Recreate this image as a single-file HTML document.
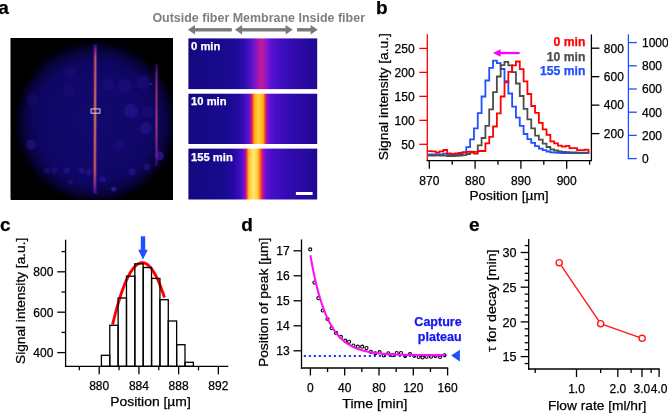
<!DOCTYPE html>
<html><head><meta charset="utf-8"><style>
html,body{margin:0;padding:0;background:#fff;}
svg{display:block;will-change:transform;}
text{font-family:"Liberation Sans",sans-serif;}
</style></head><body>
<svg width="668" height="413" viewBox="0 0 668 413">
<rect width="668" height="413" fill="#fff"/>
<text x="152.4" y="21.7" font-size="12.45" font-weight="bold" fill="#7f7f7f" textLength="212.6" lengthAdjust="spacingAndGlyphs">Outside fiber Membrane Inside fiber</text>
<rect x="193.8" y="28.1" width="38.0" height="3.4" fill="#7a7a7a"/>
<polygon points="187.8,29.8 195.0,25.1 195.0,34.5" fill="#7a7a7a"/>
<rect x="240.9" y="28.1" width="45.900000000000006" height="3.4" fill="#7a7a7a"/>
<polygon points="234.9,29.8 242.1,25.1 242.1,34.5" fill="#7a7a7a"/>
<polygon points="292.8,29.8 285.6,25.1 285.6,34.5" fill="#7a7a7a"/>
<rect x="297" y="28.1" width="14.800000000000011" height="3.4" fill="#7a7a7a"/>
<polygon points="317.8,29.8 310.6,25.1 310.6,34.5" fill="#7a7a7a"/>
<defs>
<radialGradient id="field" gradientUnits="userSpaceOnUse" cx="95.5" cy="122" r="84">
 <stop offset="0" stop-color="#12096e"/>
 <stop offset="0.5" stop-color="#11086a"/>
 <stop offset="0.72" stop-color="#0e0662"/>
 <stop offset="0.82" stop-color="#0a0548"/>
 <stop offset="0.90" stop-color="#050228"/>
 <stop offset="0.95" stop-color="#010008"/>
 <stop offset="1" stop-color="#000"/>
</radialGradient>
<linearGradient id="fib" x1="0" x2="1" y1="0" y2="0">
 <stop offset="0" stop-color="#4010a0" stop-opacity="0"/>
 <stop offset="0.25" stop-color="#b02498"/>
 <stop offset="0.5" stop-color="#ff8a50"/>
 <stop offset="0.75" stop-color="#b02498"/>
 <stop offset="1" stop-color="#4010a0" stop-opacity="0"/>
</linearGradient>
<linearGradient id="fibv" x1="0" x2="0" y1="0" y2="1">
 <stop offset="0" stop-color="#fff" stop-opacity="0.3"/>
 <stop offset="0.1" stop-color="#fff" stop-opacity="1"/>
 <stop offset="0.9" stop-color="#fff" stop-opacity="1"/>
 <stop offset="1" stop-color="#fff" stop-opacity="0.3"/>
</linearGradient>
<mask id="fm"><rect x="0" y="0" width="668" height="413" fill="url(#fibv)"/></mask>
<linearGradient id="fib2" x1="0" x2="1" y1="0" y2="0">
 <stop offset="0" stop-color="#4010a0" stop-opacity="0"/>
 <stop offset="0.3" stop-color="#a01ca0"/>
 <stop offset="0.5" stop-color="#e84a88"/>
 <stop offset="0.7" stop-color="#a01ca0"/>
 <stop offset="1" stop-color="#4010a0" stop-opacity="0"/>
</linearGradient>
</defs>
<rect x="10.5" y="38" width="162.5" height="161.5" fill="#000"/>
<svg x="10.5" y="38" width="162.5" height="161.5" overflow="hidden">
<g transform="translate(-10.5,-38)">
<rect x="0" y="0" width="200" height="220" fill="url(#field)"/>
<circle cx="131" cy="110.8" r="7" fill="#4a24c8" opacity="0.28"/>
<circle cx="124.8" cy="86.1" r="7" fill="#4a24c8" opacity="0.16"/>
<circle cx="143.3" cy="82.4" r="7" fill="#4a24c8" opacity="0.18"/>
<circle cx="108.8" cy="85" r="6" fill="#4a24c8" opacity="0.13"/>
<circle cx="70.5" cy="72.6" r="6" fill="#4a24c8" opacity="0.1"/>
<circle cx="69.3" cy="89.9" r="6" fill="#4a24c8" opacity="0.1"/>
<circle cx="32.2" cy="99.7" r="6" fill="#4a24c8" opacity="0.14"/>
<circle cx="148" cy="112" r="6" fill="#4a24c8" opacity="0.14"/>
<circle cx="150.7" cy="83.7" r="1.5" fill="#4a24c8" opacity="0.5"/>
<circle cx="31" cy="144.7" r="5" fill="#4a24c8" opacity="0.3"/>
<circle cx="145.8" cy="128.6" r="6" fill="#4a24c8" opacity="0.26"/>
<circle cx="159.4" cy="155.8" r="4.5" fill="#4a24c8" opacity="0.5"/>
<circle cx="147" cy="167" r="3.7" fill="#4a24c8" opacity="0.3"/>
<circle cx="132.2" cy="171.9" r="3.7" fill="#4a24c8" opacity="0.3"/>
<circle cx="113.7" cy="189" r="2.5" fill="#4a24c8" opacity="0.55"/>
<circle cx="102.6" cy="179.3" r="3" fill="#4a24c8" opacity="0.35"/>
<circle cx="89" cy="172.3" r="3" fill="#4a24c8" opacity="0.3"/>
<circle cx="81.6" cy="170.6" r="3" fill="#4a24c8" opacity="0.3"/>
<circle cx="66.8" cy="170.6" r="3" fill="#4a24c8" opacity="0.3"/>
<circle cx="47" cy="170.6" r="3" fill="#4a24c8" opacity="0.25"/>
<circle cx="54.4" cy="170.6" r="3" fill="#4a24c8" opacity="0.25"/>
<circle cx="70.5" cy="181.7" r="2.5" fill="#4a24c8" opacity="0.3"/>
<circle cx="118.6" cy="144.7" r="5" fill="#4a24c8" opacity="0.14"/>
<defs>
<linearGradient id="fc1" x1="0" x2="0" y1="45" y2="194" gradientUnits="userSpaceOnUse">
 <stop offset="0" stop-color="#6018c0" stop-opacity="0.3"/>
 <stop offset="0.03" stop-color="#9a20b0"/>
 <stop offset="0.09" stop-color="#e8604c"/>
 <stop offset="0.5" stop-color="#f8844c"/>
 <stop offset="0.85" stop-color="#e8684c"/>
 <stop offset="0.95" stop-color="#a02890"/>
 <stop offset="1" stop-color="#6018c0" stop-opacity="0.3"/>
</linearGradient>
<linearGradient id="fc2" x1="0" x2="0" y1="64" y2="166" gradientUnits="userSpaceOnUse">
 <stop offset="0" stop-color="#6018c0" stop-opacity="0.2"/>
 <stop offset="0.08" stop-color="#9a20b8"/>
 <stop offset="0.25" stop-color="#d84070"/>
 <stop offset="0.6" stop-color="#e85860"/>
 <stop offset="0.85" stop-color="#b02898"/>
 <stop offset="1" stop-color="#6018c0" stop-opacity="0.2"/>
</linearGradient>
</defs>
<rect x="93.0" y="44" width="4.2" height="150" fill="#5a16c0" opacity="0.35"/>
<polygon points="94.4,45 96.2,45 95.7,194 93.9,194" fill="url(#fc1)"/>
<rect x="155.1" y="64" width="2.8" height="102" fill="#5a16c0" opacity="0.3"/>
<rect x="155.9" y="64" width="1.2" height="102" fill="url(#fc2)"/>
<rect x="91.1" y="108.9" width="8.8" height="4.3" fill="none" stroke="#d8d8d8" stroke-width="1"/>
</g></svg>
<defs>
<linearGradient id="s1" x1="188.4" x2="317.2" y1="0" y2="0" gradientUnits="userSpaceOnUse">
 <stop offset="0.0000" stop-color="#140880"/>
 <stop offset="0.1289" stop-color="#160988"/>
 <stop offset="0.2842" stop-color="#190a8e"/>
 <stop offset="0.3851" stop-color="#200a9c"/>
 <stop offset="0.4472" stop-color="#320eb4"/>
 <stop offset="0.4860" stop-color="#5212c8"/>
 <stop offset="0.5210" stop-color="#8016c8"/>
 <stop offset="0.5466" stop-color="#b018a8"/>
 <stop offset="0.5668" stop-color="#c41898"/>
 <stop offset="0.5870" stop-color="#b018a8"/>
 <stop offset="0.6102" stop-color="#8014d0"/>
 <stop offset="0.6413" stop-color="#5a10d0"/>
 <stop offset="0.7112" stop-color="#400ec2"/>
 <stop offset="0.8276" stop-color="#300bac"/>
 <stop offset="1.0000" stop-color="#200894"/>
</linearGradient>
<linearGradient id="s2" x1="188.4" x2="317.2" y1="0" y2="0" gradientUnits="userSpaceOnUse">
 <stop offset="0.0000" stop-color="#140880"/>
 <stop offset="0.1289" stop-color="#160988"/>
 <stop offset="0.2842" stop-color="#190a8e"/>
 <stop offset="0.3851" stop-color="#220aa0"/>
 <stop offset="0.4317" stop-color="#3a0eb8"/>
 <stop offset="0.4666" stop-color="#6010cc"/>
 <stop offset="0.4876" stop-color="#a812b0"/>
 <stop offset="0.4984" stop-color="#ff3a20"/>
 <stop offset="0.5093" stop-color="#ffa010"/>
 <stop offset="0.5248" stop-color="#ffc020"/>
 <stop offset="0.5458" stop-color="#ffd040"/>
 <stop offset="0.5675" stop-color="#ffc020"/>
 <stop offset="0.5831" stop-color="#ffa010"/>
 <stop offset="0.5947" stop-color="#ff3a20"/>
 <stop offset="0.6064" stop-color="#a812b0"/>
 <stop offset="0.6297" stop-color="#6410d4"/>
 <stop offset="0.6801" stop-color="#440ec6"/>
 <stop offset="0.7888" stop-color="#320bb0"/>
 <stop offset="1.0000" stop-color="#200894"/>
</linearGradient>
<linearGradient id="s3" x1="188.4" x2="317.2" y1="0" y2="0" gradientUnits="userSpaceOnUse">
 <stop offset="0.0000" stop-color="#140880"/>
 <stop offset="0.1289" stop-color="#160988"/>
 <stop offset="0.2609" stop-color="#190a8e"/>
 <stop offset="0.3463" stop-color="#220aa0"/>
 <stop offset="0.3929" stop-color="#3a0eb8"/>
 <stop offset="0.4239" stop-color="#6010cc"/>
 <stop offset="0.4433" stop-color="#a812b0"/>
 <stop offset="0.4550" stop-color="#ff4a20"/>
 <stop offset="0.4666" stop-color="#ffb028"/>
 <stop offset="0.4860" stop-color="#ffd850"/>
 <stop offset="0.5093" stop-color="#ffe870"/>
 <stop offset="0.5326" stop-color="#ffd040"/>
 <stop offset="0.5481" stop-color="#ffa020"/>
 <stop offset="0.5621" stop-color="#ff4a18"/>
 <stop offset="0.5776" stop-color="#b812a4"/>
 <stop offset="0.6025" stop-color="#6410d4"/>
 <stop offset="0.6491" stop-color="#440ec6"/>
 <stop offset="0.7733" stop-color="#320bb0"/>
 <stop offset="1.0000" stop-color="#200894"/>
</linearGradient>
</defs>
<rect x="188.4" y="38.4" width="128.8" height="50.7" fill="url(#s1)"/>
<rect x="188.4" y="93.7" width="128.8" height="50.3" fill="url(#s2)"/>
<rect x="188.4" y="148.6" width="128.8" height="50.9" fill="url(#s3)"/>
<text x="191.1" y="50.3" font-size="11.2" text-anchor="start" fill="#fff" stroke="#fff" stroke-width="0.25" font-weight="bold" >0 min</text>
<text x="191.1" y="105.4" font-size="11.2" text-anchor="start" fill="#fff" stroke="#fff" stroke-width="0.25" font-weight="bold" >10 min</text>
<text x="191.1" y="160.6" font-size="11.2" text-anchor="start" fill="#fff" stroke="#fff" stroke-width="0.25" font-weight="bold" >155 min</text>
<rect x="295.9" y="192" width="16.7" height="3" fill="#fff"/>
<path d="M428.10 154.4 H431.92 V154.4 H435.74 V154.4 H439.56 V154.3 H443.38 V153.7 H447.20 V154.2 H451.02 V154.4 H454.84 V154.4 H458.66 V154.2 H462.48 V152.1 H466.30 V147.1 H470.12 V139.3 H473.94 V128.3 H477.76 V113.1 H481.58 V96.5 H485.40 V80.5 H489.22 V67.8 H493.04 V60.7 H496.86 V63.1 H500.68 V69 H504.50 V81.2 H508.32 V93.5 H512.14 V106.7 H515.96 V117.7 H519.78 V125.8 H523.60 V134 H527.42 V139.2 H531.24 V142.9 H535.06 V146.1 H538.88 V148.6 H542.70 V150.2 H546.52 V151.5 H550.34 V152.3 H554.16 V152.6 H557.98 V152.8 H561.80 V153 H565.62 V153 H569.44 V153 H573.26 V153 H577.08 V153 H580.90 V153 H584.72 V153 H588.54 V152.8" fill="none" stroke="#1f4fff" stroke-width="1.8" stroke-linejoin="miter"/>
<path d="M428.10 155.6 H431.92 V155.6 H435.74 V155.4 H439.56 V155.5 H443.38 V155.6 H447.20 V156 H451.02 V156 H454.84 V155.8 H458.66 V155.5 H462.48 V155.2 H466.30 V154 H470.12 V152.5 H473.94 V151.8 H477.76 V145.4 H481.58 V138 H485.40 V125.9 H489.22 V109.4 H493.04 V92.2 H496.86 V76.5 H500.68 V65.1 H504.50 V61.8 H508.32 V65.3 H512.14 V72.1 H515.96 V83.5 H519.78 V96 H523.60 V108.8 H527.42 V119.4 H531.24 V128.3 H535.06 V135.6 H538.88 V139.6 H542.70 V143.7 H546.52 V147 H550.34 V149.4 H554.16 V150.5 H557.98 V151.3 H561.80 V151.8 H565.62 V152.2 H569.44 V152.4 H573.26 V152.5 H577.08 V152.6 H580.90 V152.6 H584.72 V152.6 H588.54 V152.8" fill="none" stroke="#4d4d4d" stroke-width="1.8" stroke-linejoin="miter"/>
<path d="M428.10 151.1 H431.92 V151.3 H435.74 V152.5 H439.56 V151.3 H443.38 V150.0 H447.20 V153.3 H451.02 V153.8 H454.84 V153.3 H458.66 V153.0 H462.48 V152.6 H466.30 V151.8 H470.12 V151.6 H473.94 V153.6 H477.76 V151.0 H481.58 V151.0 H485.40 V143.4 H489.22 V136.9 H493.04 V126.5 H496.86 V113.4 H500.68 V96.5 H504.50 V82.3 H508.32 V71.8 H512.14 V65.3 H515.96 V61.5 H519.78 V69.1 H523.60 V81.4 H527.42 V94 H531.24 V106 H535.06 V112.9 H538.88 V122.9 H542.70 V129.4 H546.52 V134.8 H550.34 V141.3 H554.16 V143.4 H557.98 V145.6 H561.80 V146.6 H565.62 V145.9 H569.44 V148.1 H573.26 V148.1 H577.08 V150.2 H580.90 V150.2 H584.72 V149.7 H588.54 V152.8" fill="none" stroke="#ff0000" stroke-width="1.8" stroke-linejoin="miter"/>
<line x1="427.30" y1="34.20" x2="427.30" y2="160.70" stroke="#ff0000" stroke-width="1.3" />
<line x1="419.30" y1="48.40" x2="427.30" y2="48.40" stroke="#ff0000" stroke-width="1.3" />
<text x="414.6" y="52.699999999999996" font-size="12" text-anchor="end" fill="#000" stroke="#000" stroke-width="0.25" >250</text>
<line x1="419.30" y1="72.38" x2="427.30" y2="72.38" stroke="#ff0000" stroke-width="1.3" />
<text x="414.6" y="76.675" font-size="12" text-anchor="end" fill="#000" stroke="#000" stroke-width="0.25" >200</text>
<line x1="419.30" y1="96.35" x2="427.30" y2="96.35" stroke="#ff0000" stroke-width="1.3" />
<text x="414.6" y="100.64999999999999" font-size="12" text-anchor="end" fill="#000" stroke="#000" stroke-width="0.25" >150</text>
<line x1="419.30" y1="120.33" x2="427.30" y2="120.33" stroke="#ff0000" stroke-width="1.3" />
<text x="414.6" y="124.62500000000001" font-size="12" text-anchor="end" fill="#000" stroke="#000" stroke-width="0.25" >100</text>
<line x1="419.30" y1="144.30" x2="427.30" y2="144.30" stroke="#ff0000" stroke-width="1.3" />
<text x="414.6" y="148.60000000000002" font-size="12" text-anchor="end" fill="#000" stroke="#000" stroke-width="0.25" >50</text>
<line x1="426.65" y1="160.70" x2="592.05" y2="160.70" stroke="#000" stroke-width="1.3" />
<line x1="429.30" y1="160.70" x2="429.30" y2="168.70" stroke="#000" stroke-width="1.3" />
<text x="429.3" y="185" font-size="12" text-anchor="middle" fill="#000" stroke="#000" stroke-width="0.25" >870</text>
<line x1="452.20" y1="160.70" x2="452.20" y2="164.70" stroke="#000" stroke-width="1.3" />
<line x1="475.10" y1="160.70" x2="475.10" y2="168.70" stroke="#000" stroke-width="1.3" />
<text x="475.1" y="185" font-size="12" text-anchor="middle" fill="#000" stroke="#000" stroke-width="0.25" >880</text>
<line x1="498.00" y1="160.70" x2="498.00" y2="164.70" stroke="#000" stroke-width="1.3" />
<line x1="520.90" y1="160.70" x2="520.90" y2="168.70" stroke="#000" stroke-width="1.3" />
<text x="520.9" y="185" font-size="12" text-anchor="middle" fill="#000" stroke="#000" stroke-width="0.25" >890</text>
<line x1="543.80" y1="160.70" x2="543.80" y2="164.70" stroke="#000" stroke-width="1.3" />
<line x1="566.70" y1="160.70" x2="566.70" y2="168.70" stroke="#000" stroke-width="1.3" />
<text x="566.7" y="185" font-size="12" text-anchor="middle" fill="#000" stroke="#000" stroke-width="0.25" >900</text>
<line x1="589.60" y1="160.70" x2="589.60" y2="164.70" stroke="#000" stroke-width="1.3" />
<line x1="591.40" y1="34.40" x2="591.40" y2="160.70" stroke="#000" stroke-width="1.3" />
<line x1="591.40" y1="48.20" x2="599.40" y2="48.20" stroke="#000" stroke-width="1.3" />
<text x="603.8" y="52.5" font-size="12" text-anchor="start" fill="#000" stroke="#000" stroke-width="0.25" >800</text>
<line x1="591.40" y1="76.67" x2="599.40" y2="76.67" stroke="#000" stroke-width="1.3" />
<text x="603.8" y="80.97" font-size="12" text-anchor="start" fill="#000" stroke="#000" stroke-width="0.25" >600</text>
<line x1="591.40" y1="105.14" x2="599.40" y2="105.14" stroke="#000" stroke-width="1.3" />
<text x="603.8" y="109.44" font-size="12" text-anchor="start" fill="#000" stroke="#000" stroke-width="0.25" >400</text>
<line x1="591.40" y1="133.61" x2="599.40" y2="133.61" stroke="#000" stroke-width="1.3" />
<text x="603.8" y="137.91000000000003" font-size="12" text-anchor="start" fill="#000" stroke="#000" stroke-width="0.25" >200</text>
<line x1="628.40" y1="34.40" x2="628.40" y2="159.25" stroke="#1f4fff" stroke-width="1.3" />
<line x1="628.40" y1="158.60" x2="636.80" y2="158.60" stroke="#1f4fff" stroke-width="1.3" />
<text x="642.0" y="162.9" font-size="12" text-anchor="start" fill="#000" stroke="#000" stroke-width="0.25" >0</text>
<line x1="628.40" y1="135.40" x2="636.80" y2="135.40" stroke="#1f4fff" stroke-width="1.3" />
<text x="642.0" y="139.70000000000002" font-size="12" text-anchor="start" fill="#000" stroke="#000" stroke-width="0.25" >200</text>
<line x1="628.40" y1="112.20" x2="636.80" y2="112.20" stroke="#1f4fff" stroke-width="1.3" />
<text x="642.0" y="116.49999999999999" font-size="12" text-anchor="start" fill="#000" stroke="#000" stroke-width="0.25" >400</text>
<line x1="628.40" y1="89.00" x2="636.80" y2="89.00" stroke="#1f4fff" stroke-width="1.3" />
<text x="642.0" y="93.3" font-size="12" text-anchor="start" fill="#000" stroke="#000" stroke-width="0.25" >600</text>
<line x1="628.40" y1="65.80" x2="636.80" y2="65.80" stroke="#1f4fff" stroke-width="1.3" />
<text x="642.0" y="70.1" font-size="12" text-anchor="start" fill="#000" stroke="#000" stroke-width="0.25" >800</text>
<line x1="628.40" y1="42.60" x2="636.80" y2="42.60" stroke="#1f4fff" stroke-width="1.3" />
<text x="642.0" y="46.89999999999999" font-size="12" text-anchor="start" fill="#000" stroke="#000" stroke-width="0.25" >1000</text>
<text x="585.4" y="45.6" font-size="12.2" text-anchor="end" fill="#ff0000" stroke="#ff0000" stroke-width="0.25" font-weight="bold" >0 min</text>
<text x="585.4" y="61.0" font-size="12.2" text-anchor="end" fill="#4d4d4d" stroke="#4d4d4d" stroke-width="0.25" font-weight="bold" >10 min</text>
<text x="585.4" y="75.4" font-size="12.2" text-anchor="end" fill="#1f4fff" stroke="#1f4fff" stroke-width="0.25" font-weight="bold" >155 min</text>
<rect x="499" y="51.9" width="20.6" height="2.3" fill="#ff00ff"/>
<polygon points="492.8,53 500.6,49.3 500.6,56.7" fill="#ff00ff"/>
<text x="509" y="200.2" font-size="13.2" text-anchor="middle" fill="#000" stroke="#000" stroke-width="0.25"  textLength="79.2" lengthAdjust="spacingAndGlyphs">Position [µm]</text>
<text transform="translate(387.7,96.65) rotate(-90)" font-size="13.2" text-anchor="middle" fill="#000" stroke="#000" stroke-width="0.25" textLength="127" lengthAdjust="spacingAndGlyphs">Signal intensity [a.u.]</text>
<line x1="65.60" y1="239.70" x2="65.60" y2="366.95" stroke="#000" stroke-width="1.3" />
<line x1="64.95" y1="366.30" x2="228.30" y2="366.30" stroke="#000" stroke-width="1.3" />
<line x1="61.50" y1="251.60" x2="65.60" y2="251.60" stroke="#000" stroke-width="1.3" />
<line x1="57.30" y1="271.80" x2="65.60" y2="271.80" stroke="#000" stroke-width="1.3" />
<text x="53.4" y="276.1" font-size="12" text-anchor="end" fill="#000" stroke="#000" stroke-width="0.25" >800</text>
<line x1="61.50" y1="292.00" x2="65.60" y2="292.00" stroke="#000" stroke-width="1.3" />
<line x1="57.30" y1="312.20" x2="65.60" y2="312.20" stroke="#000" stroke-width="1.3" />
<text x="53.4" y="316.50000000000006" font-size="12" text-anchor="end" fill="#000" stroke="#000" stroke-width="0.25" >600</text>
<line x1="61.50" y1="332.40" x2="65.60" y2="332.40" stroke="#000" stroke-width="1.3" />
<line x1="57.30" y1="352.60" x2="65.60" y2="352.60" stroke="#000" stroke-width="1.3" />
<text x="53.4" y="356.90000000000003" font-size="12" text-anchor="end" fill="#000" stroke="#000" stroke-width="0.25" >400</text>
<line x1="79.34" y1="366.30" x2="79.34" y2="370.30" stroke="#000" stroke-width="1.3" />
<line x1="99.20" y1="366.30" x2="99.20" y2="374.30" stroke="#000" stroke-width="1.3" />
<text x="99.2" y="390.2" font-size="12" text-anchor="middle" fill="#000" stroke="#000" stroke-width="0.25" >880</text>
<line x1="119.06" y1="366.30" x2="119.06" y2="370.30" stroke="#000" stroke-width="1.3" />
<line x1="138.92" y1="366.30" x2="138.92" y2="374.30" stroke="#000" stroke-width="1.3" />
<text x="138.92000000000002" y="390.2" font-size="12" text-anchor="middle" fill="#000" stroke="#000" stroke-width="0.25" >884</text>
<line x1="158.78" y1="366.30" x2="158.78" y2="370.30" stroke="#000" stroke-width="1.3" />
<line x1="178.64" y1="366.30" x2="178.64" y2="374.30" stroke="#000" stroke-width="1.3" />
<text x="178.64" y="390.2" font-size="12" text-anchor="middle" fill="#000" stroke="#000" stroke-width="0.25" >888</text>
<line x1="198.50" y1="366.30" x2="198.50" y2="370.30" stroke="#000" stroke-width="1.3" />
<line x1="218.36" y1="366.30" x2="218.36" y2="374.30" stroke="#000" stroke-width="1.3" />
<text x="218.36" y="390.2" font-size="12" text-anchor="middle" fill="#000" stroke="#000" stroke-width="0.25" >892</text>
<polyline points="112.60,324.47 113.30,321.58 114.00,318.76 114.70,316.02 115.40,313.34 116.10,310.73 116.80,308.18 117.50,305.71 118.20,303.31 118.90,300.97 119.60,298.71 120.30,296.51 121.00,294.39 121.70,292.33 122.40,290.34 123.10,288.42 123.80,286.57 124.50,284.79 125.20,283.07 125.90,281.43 126.60,279.86 127.30,278.35 128.00,276.92 128.70,275.55 129.40,274.25 130.10,273.02 130.80,271.86 131.50,270.77 132.20,269.75 132.90,268.80 133.60,267.91 134.30,267.10 135.00,266.35 135.70,265.68 136.40,265.07 137.10,264.53 137.80,264.06 138.50,263.67 139.20,263.33 139.90,263.07 140.60,262.88 141.30,262.76 142.00,262.70 142.70,262.72 143.40,262.80 144.10,262.95 144.80,263.18 145.50,263.47 146.20,263.83 146.90,264.26 147.60,264.76 148.30,265.32 149.00,265.96 149.70,266.67 150.40,267.44 151.10,268.28 151.80,269.20 152.50,270.18 153.20,271.23 153.90,272.35 154.60,273.54 155.30,274.80 156.00,276.13 156.70,277.52 157.40,278.99 158.10,280.52 158.80,282.13 159.50,283.80 160.20,285.54 160.90,287.35 161.60,289.23 162.30,291.18 163.00,293.20 163.70,295.29 164.40,297.45" fill="none" stroke="#ff0000" stroke-width="2.9"/>
<rect x="101.40" y="355.3" width="8.36" height="11.00" fill="none" stroke="#000" stroke-width="1.3"/>
<rect x="109.76" y="325.3" width="8.36" height="41.00" fill="none" stroke="#000" stroke-width="1.3"/>
<rect x="118.12" y="298" width="8.36" height="68.30" fill="none" stroke="#000" stroke-width="1.3"/>
<rect x="126.48" y="276.2" width="8.36" height="90.10" fill="none" stroke="#000" stroke-width="1.3"/>
<rect x="134.84" y="263.8" width="8.36" height="102.50" fill="none" stroke="#000" stroke-width="1.3"/>
<rect x="143.20" y="267.5" width="8.36" height="98.80" fill="none" stroke="#000" stroke-width="1.3"/>
<rect x="151.56" y="278.4" width="8.36" height="87.90" fill="none" stroke="#000" stroke-width="1.3"/>
<rect x="159.92" y="299.7" width="8.36" height="66.60" fill="none" stroke="#000" stroke-width="1.3"/>
<rect x="168.28" y="321" width="8.36" height="45.30" fill="none" stroke="#000" stroke-width="1.3"/>
<rect x="176.64" y="344.7" width="8.36" height="21.60" fill="none" stroke="#000" stroke-width="1.3"/>
<rect x="185.00" y="362.3" width="8.36" height="4.00" fill="none" stroke="#000" stroke-width="1.3"/>
<rect x="140.8" y="236.3" width="4.4" height="13.7" fill="#1f4fff"/>
<polygon points="138.2,249.8 147.8,249.8 143,259.4" fill="#1f4fff"/>
<text x="150.5" y="406.2" font-size="13.2" text-anchor="middle" fill="#000" stroke="#000" stroke-width="0.25"  textLength="80.6" lengthAdjust="spacingAndGlyphs">Position [µm]</text>
<text transform="translate(25.4,300.85) rotate(-90)" font-size="13.2" text-anchor="middle" fill="#000" stroke="#000" stroke-width="0.25" textLength="126.2" lengthAdjust="spacingAndGlyphs">Signal intensity [a.u.]</text>
<line x1="301.50" y1="239.40" x2="301.50" y2="368.65" stroke="#000" stroke-width="1.3" />
<line x1="300.85" y1="368.00" x2="448.20" y2="368.00" stroke="#000" stroke-width="1.3" />
<line x1="293.50" y1="250.80" x2="301.50" y2="250.80" stroke="#000" stroke-width="1.3" />
<text x="289.6" y="255.10000000000002" font-size="12" text-anchor="end" fill="#000" stroke="#000" stroke-width="0.25" >17</text>
<line x1="293.50" y1="275.80" x2="301.50" y2="275.80" stroke="#000" stroke-width="1.3" />
<text x="289.6" y="280.1" font-size="12" text-anchor="end" fill="#000" stroke="#000" stroke-width="0.25" >16</text>
<line x1="293.50" y1="300.80" x2="301.50" y2="300.80" stroke="#000" stroke-width="1.3" />
<text x="289.6" y="305.1" font-size="12" text-anchor="end" fill="#000" stroke="#000" stroke-width="0.25" >15</text>
<line x1="293.50" y1="325.80" x2="301.50" y2="325.80" stroke="#000" stroke-width="1.3" />
<text x="289.6" y="330.1" font-size="12" text-anchor="end" fill="#000" stroke="#000" stroke-width="0.25" >14</text>
<line x1="293.50" y1="350.80" x2="301.50" y2="350.80" stroke="#000" stroke-width="1.3" />
<text x="289.6" y="355.1" font-size="12" text-anchor="end" fill="#000" stroke="#000" stroke-width="0.25" >13</text>
<line x1="310.40" y1="368.00" x2="310.40" y2="375.50" stroke="#000" stroke-width="1.3" />
<text x="310.4" y="391.6" font-size="12" text-anchor="middle" fill="#000" stroke="#000" stroke-width="0.25" >0</text>
<line x1="327.55" y1="368.00" x2="327.55" y2="372.00" stroke="#000" stroke-width="1.3" />
<line x1="344.70" y1="368.00" x2="344.70" y2="375.50" stroke="#000" stroke-width="1.3" />
<text x="344.7" y="391.6" font-size="12" text-anchor="middle" fill="#000" stroke="#000" stroke-width="0.25" >40</text>
<line x1="361.85" y1="368.00" x2="361.85" y2="372.00" stroke="#000" stroke-width="1.3" />
<line x1="379.00" y1="368.00" x2="379.00" y2="375.50" stroke="#000" stroke-width="1.3" />
<text x="379.0" y="391.6" font-size="12" text-anchor="middle" fill="#000" stroke="#000" stroke-width="0.25" >80</text>
<line x1="396.15" y1="368.00" x2="396.15" y2="372.00" stroke="#000" stroke-width="1.3" />
<line x1="413.30" y1="368.00" x2="413.30" y2="375.50" stroke="#000" stroke-width="1.3" />
<text x="413.29999999999995" y="391.6" font-size="12" text-anchor="middle" fill="#000" stroke="#000" stroke-width="0.25" >120</text>
<line x1="430.45" y1="368.00" x2="430.45" y2="372.00" stroke="#000" stroke-width="1.3" />
<line x1="447.60" y1="368.00" x2="447.60" y2="375.50" stroke="#000" stroke-width="1.3" />
<text x="447.6" y="391.6" font-size="12" text-anchor="middle" fill="#000" stroke="#000" stroke-width="0.25" >160</text>
<line x1="303.8" y1="356" x2="448" y2="356" stroke="#2630ff" stroke-width="1.8" stroke-dasharray="2.1 2.9"/>
<circle cx="310.2" cy="249.4" r="1.55" fill="none" stroke="#000" stroke-width="1.1"/>
<circle cx="314.4" cy="282.6" r="1.55" fill="none" stroke="#000" stroke-width="1.1"/>
<circle cx="318.4" cy="298.2" r="1.55" fill="none" stroke="#000" stroke-width="1.1"/>
<circle cx="322.7" cy="310.5" r="1.55" fill="none" stroke="#000" stroke-width="1.1"/>
<circle cx="327.5" cy="319" r="1.55" fill="none" stroke="#000" stroke-width="1.1"/>
<circle cx="331.6" cy="328.2" r="1.55" fill="none" stroke="#000" stroke-width="1.1"/>
<circle cx="336" cy="332.9" r="1.55" fill="none" stroke="#000" stroke-width="1.1"/>
<circle cx="340.9" cy="336.9" r="1.55" fill="none" stroke="#000" stroke-width="1.1"/>
<circle cx="345.3" cy="340.7" r="1.55" fill="none" stroke="#000" stroke-width="1.1"/>
<circle cx="349.1" cy="341.8" r="1.55" fill="none" stroke="#000" stroke-width="1.1"/>
<circle cx="353.4" cy="345.6" r="1.55" fill="none" stroke="#000" stroke-width="1.1"/>
<circle cx="357.8" cy="346.7" r="1.55" fill="none" stroke="#000" stroke-width="1.1"/>
<circle cx="362.2" cy="346.7" r="1.55" fill="none" stroke="#000" stroke-width="1.1"/>
<circle cx="366.5" cy="348.1" r="1.55" fill="none" stroke="#000" stroke-width="1.1"/>
<circle cx="370.9" cy="351.8" r="1.55" fill="none" stroke="#000" stroke-width="1.1"/>
<circle cx="375.3" cy="353.3" r="1.55" fill="none" stroke="#000" stroke-width="1.1"/>
<circle cx="379.6" cy="352.2" r="1.55" fill="none" stroke="#000" stroke-width="1.1"/>
<circle cx="383.7" cy="355.4" r="1.55" fill="none" stroke="#000" stroke-width="1.1"/>
<circle cx="388.3" cy="353.3" r="1.55" fill="none" stroke="#000" stroke-width="1.1"/>
<circle cx="392.5" cy="355.2" r="1.55" fill="none" stroke="#000" stroke-width="1.1"/>
<circle cx="396.7" cy="353" r="1.55" fill="none" stroke="#000" stroke-width="1.1"/>
<circle cx="401" cy="353" r="1.55" fill="none" stroke="#000" stroke-width="1.1"/>
<circle cx="405.2" cy="356.1" r="1.55" fill="none" stroke="#000" stroke-width="1.1"/>
<circle cx="410" cy="354.2" r="1.55" fill="none" stroke="#000" stroke-width="1.1"/>
<circle cx="414.2" cy="355.8" r="1.55" fill="none" stroke="#000" stroke-width="1.1"/>
<circle cx="418.7" cy="357" r="1.55" fill="none" stroke="#000" stroke-width="1.1"/>
<circle cx="422.6" cy="357.5" r="1.55" fill="none" stroke="#000" stroke-width="1.1"/>
<circle cx="426.5" cy="356.7" r="1.55" fill="none" stroke="#000" stroke-width="1.1"/>
<circle cx="431" cy="356.7" r="1.55" fill="none" stroke="#000" stroke-width="1.1"/>
<circle cx="435.5" cy="356.1" r="1.55" fill="none" stroke="#000" stroke-width="1.1"/>
<circle cx="440" cy="357" r="1.55" fill="none" stroke="#000" stroke-width="1.1"/>
<circle cx="444.5" cy="355.3" r="1.55" fill="none" stroke="#000" stroke-width="1.1"/>
<polyline points="310.40,255.30 311.26,260.17 312.11,264.81 312.97,269.22 313.83,273.41 314.69,277.40 315.54,281.19 316.40,284.80 317.26,288.24 318.12,291.50 318.97,294.61 319.83,297.56 320.69,300.37 321.55,303.05 322.40,305.59 323.26,308.01 324.12,310.31 324.98,312.50 325.83,314.58 326.69,316.56 327.55,318.45 328.41,320.24 329.26,321.95 330.12,323.57 330.98,325.11 331.84,326.58 332.69,327.97 333.55,329.30 334.41,330.56 335.27,331.77 336.12,332.91 336.98,334.00 337.84,335.03 338.70,336.01 339.55,336.95 340.41,337.84 341.27,338.69 342.13,339.49 342.98,340.26 343.84,340.99 344.70,341.68 345.56,342.34 346.41,342.97 347.27,343.56 348.13,344.13 348.99,344.67 349.84,345.18 350.70,345.67 351.56,346.14 352.42,346.58 353.27,347.00 354.13,347.40 354.99,347.78 355.85,348.14 356.70,348.49 357.56,348.81 358.42,349.13 359.28,349.42 360.13,349.70 360.99,349.97 361.85,350.23 362.71,350.47 363.56,350.70 364.42,350.92 365.28,351.13 366.14,351.33 367.00,351.52 367.85,351.70 368.71,351.87 369.57,352.03 370.42,352.18 371.28,352.33 372.14,352.47 373.00,352.60 373.85,352.73 374.71,352.85 375.57,352.97 376.43,353.07 377.28,353.18 378.14,353.28 379.00,353.37 379.86,353.46 380.71,353.54 381.57,353.63 382.43,353.70 383.29,353.78 384.14,353.84 385.00,353.91 385.86,353.97 386.72,354.03 387.57,354.09 388.43,354.14 389.29,354.20 390.15,354.24 391.00,354.29 391.86,354.34 392.72,354.38 393.58,354.42 394.44,354.46 395.29,354.49 396.15,354.53 397.01,354.56 397.87,354.59 398.72,354.62 399.58,354.65 400.44,354.68 401.29,354.70 402.15,354.73 403.01,354.75 403.87,354.77 404.72,354.79 405.58,354.81 406.44,354.83 407.30,354.85 408.15,354.87 409.01,354.88 409.87,354.90 410.73,354.91 411.58,354.93 412.44,354.94 413.30,354.95 414.16,354.96 415.01,354.98 415.87,354.99 416.73,355.00 417.59,355.01 418.44,355.02 419.30,355.03 420.16,355.03 421.02,355.04 421.88,355.05 422.73,355.06 423.59,355.06 424.45,355.07 425.30,355.08 426.16,355.08 427.02,355.09 427.88,355.09 428.74,355.10 429.59,355.10 430.45,355.11 431.31,355.11 432.16,355.12 433.02,355.12 433.88,355.13 434.74,355.13 435.59,355.13 436.45,355.14 437.31,355.14 438.17,355.14 439.02,355.14 439.88,355.15 440.74,355.15 441.60,355.15 442.45,355.15 443.31,355.16 444.17,355.16 445.03,355.16" fill="none" stroke="#ff10f0" stroke-width="2.1"/>
<polygon points="451.2,355.6 459.9,349.7 459.9,361.5" fill="#1a50ff"/>
<text x="461.6" y="326.2" font-size="12.5" text-anchor="end" fill="#1414f0" stroke="#1414f0" stroke-width="0.25" font-weight="bold" >Capture</text>
<text x="461.6" y="341" font-size="12.5" text-anchor="end" fill="#1414f0" stroke="#1414f0" stroke-width="0.25" font-weight="bold" >plateau</text>
<text x="374.85" y="407.6" font-size="13.2" text-anchor="middle" fill="#000" stroke="#000" stroke-width="0.25"  textLength="65" lengthAdjust="spacingAndGlyphs">Time [min]</text>
<text transform="translate(268.1,302.35) rotate(-90)" font-size="13.2" text-anchor="middle" fill="#000" stroke="#000" stroke-width="0.25" textLength="129.4" lengthAdjust="spacingAndGlyphs">Position of peak [µm]</text>
<line x1="528.70" y1="239.00" x2="528.70" y2="369.65" stroke="#000" stroke-width="1.3" />
<line x1="528.05" y1="369.00" x2="659.70" y2="369.00" stroke="#000" stroke-width="1.3" />
<line x1="524.70" y1="363.54" x2="528.70" y2="363.54" stroke="#000" stroke-width="1.3" />
<line x1="520.70" y1="356.60" x2="528.70" y2="356.60" stroke="#000" stroke-width="1.3" />
<text x="516.4" y="361.40000000000003" font-size="12.6" text-anchor="end" fill="#000" stroke="#000" stroke-width="0.25" >15</text>
<line x1="524.70" y1="349.66" x2="528.70" y2="349.66" stroke="#000" stroke-width="1.3" />
<line x1="524.70" y1="342.72" x2="528.70" y2="342.72" stroke="#000" stroke-width="1.3" />
<line x1="524.70" y1="335.78" x2="528.70" y2="335.78" stroke="#000" stroke-width="1.3" />
<line x1="524.70" y1="328.84" x2="528.70" y2="328.84" stroke="#000" stroke-width="1.3" />
<line x1="520.70" y1="321.90" x2="528.70" y2="321.90" stroke="#000" stroke-width="1.3" />
<text x="516.4" y="326.7" font-size="12.6" text-anchor="end" fill="#000" stroke="#000" stroke-width="0.25" >20</text>
<line x1="524.70" y1="314.96" x2="528.70" y2="314.96" stroke="#000" stroke-width="1.3" />
<line x1="524.70" y1="308.02" x2="528.70" y2="308.02" stroke="#000" stroke-width="1.3" />
<line x1="524.70" y1="301.08" x2="528.70" y2="301.08" stroke="#000" stroke-width="1.3" />
<line x1="524.70" y1="294.14" x2="528.70" y2="294.14" stroke="#000" stroke-width="1.3" />
<line x1="520.70" y1="287.20" x2="528.70" y2="287.20" stroke="#000" stroke-width="1.3" />
<text x="516.4" y="292.0" font-size="12.6" text-anchor="end" fill="#000" stroke="#000" stroke-width="0.25" >25</text>
<line x1="524.70" y1="280.26" x2="528.70" y2="280.26" stroke="#000" stroke-width="1.3" />
<line x1="524.70" y1="273.32" x2="528.70" y2="273.32" stroke="#000" stroke-width="1.3" />
<line x1="524.70" y1="266.38" x2="528.70" y2="266.38" stroke="#000" stroke-width="1.3" />
<line x1="524.70" y1="259.44" x2="528.70" y2="259.44" stroke="#000" stroke-width="1.3" />
<line x1="520.70" y1="252.50" x2="528.70" y2="252.50" stroke="#000" stroke-width="1.3" />
<text x="516.4" y="257.3" font-size="12.6" text-anchor="end" fill="#000" stroke="#000" stroke-width="0.25" >30</text>
<line x1="524.70" y1="245.56" x2="528.70" y2="245.56" stroke="#000" stroke-width="1.3" />
<line x1="535.20" y1="369.00" x2="535.20" y2="373.00" stroke="#000" stroke-width="1.3" />
<line x1="576.50" y1="369.00" x2="576.50" y2="377.00" stroke="#000" stroke-width="1.3" />
<text x="576.5" y="393.3" font-size="12" text-anchor="middle" fill="#000" stroke="#000" stroke-width="0.25" >1.0</text>
<line x1="600.66" y1="369.00" x2="600.66" y2="373.00" stroke="#000" stroke-width="1.3" />
<line x1="617.80" y1="369.00" x2="617.80" y2="377.00" stroke="#000" stroke-width="1.3" />
<text x="617.8013154050982" y="393.3" font-size="12" text-anchor="middle" fill="#000" stroke="#000" stroke-width="0.25" >2.0</text>
<line x1="631.10" y1="369.00" x2="631.10" y2="373.00" stroke="#000" stroke-width="1.3" />
<line x1="641.96" y1="369.00" x2="641.96" y2="377.00" stroke="#000" stroke-width="1.3" />
<text x="641.9610361475377" y="393.3" font-size="12" text-anchor="middle" fill="#000" stroke="#000" stroke-width="0.25" >3.0</text>
<line x1="651.15" y1="369.00" x2="651.15" y2="373.00" stroke="#000" stroke-width="1.3" />
<line x1="659.10" y1="369.00" x2="659.10" y2="377.00" stroke="#000" stroke-width="1.3" />
<text x="659.1026308101964" y="393.3" font-size="12" text-anchor="middle" fill="#000" stroke="#000" stroke-width="0.25" >4.0</text>
<polyline points="559.2,262.7 600.7,323.7 642.1,338.3" fill="none" stroke="#ff1a1a" stroke-width="1.4"/>
<circle cx="559.2" cy="262.7" r="3.1" fill="#fff" stroke="#ff1a1a" stroke-width="1.4"/>
<circle cx="600.7" cy="323.7" r="3.1" fill="#fff" stroke="#ff1a1a" stroke-width="1.4"/>
<circle cx="642.1" cy="338.3" r="3.1" fill="#fff" stroke="#ff1a1a" stroke-width="1.4"/>
<text x="597.1" y="409.5" font-size="13.2" text-anchor="middle" fill="#000" stroke="#000" stroke-width="0.25"  textLength="98.4" lengthAdjust="spacingAndGlyphs">Flow rate [ml/hr]</text>
<text transform="translate(495.6,300.7) rotate(-90)" font-size="13.2" text-anchor="middle" fill="#000" stroke="#000" stroke-width="0.25" textLength="102.4" lengthAdjust="spacingAndGlyphs">τ for decay [min]</text>
<text x="-1.8" y="13.6" font-size="19" text-anchor="start" fill="#000" stroke="#000" stroke-width="0.25" font-weight="bold" >a</text>
<text x="376.0" y="13.6" font-size="19" text-anchor="start" fill="#000" stroke="#000" stroke-width="0.25" font-weight="bold" >b</text>
<text x="0.0" y="231.0" font-size="19" text-anchor="start" fill="#000" stroke="#000" stroke-width="0.25" font-weight="bold" >c</text>
<text x="241.2" y="230.8" font-size="19" text-anchor="start" fill="#000" stroke="#000" stroke-width="0.25" font-weight="bold" >d</text>
<text x="469.1" y="231.1" font-size="19" text-anchor="start" fill="#000" stroke="#000" stroke-width="0.25" font-weight="bold" >e</text>
</svg>
</body></html>
